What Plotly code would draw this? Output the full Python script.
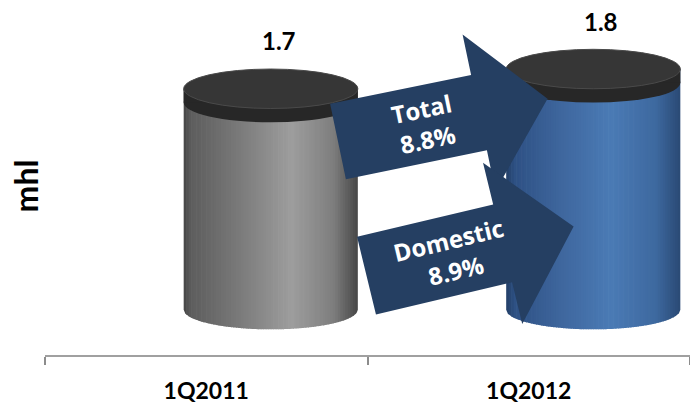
import math
import plotly.graph_objects as go

# ---- data -------------------------------------------------------------
categories = ["1Q2011", "1Q2012"]
volumes = [1.7, 1.8]                 # beer volume, mhl
value_labels = ["1.7", "1.8"]
growth_names = ["Total", "Domestic"]
growth_values = ["8.8%", "8.9%"]

# ---- layout / style ---------------------------------------------------
W, H = 690, 404
ML, MB = 45, 44
Y_RANGE = [0.35, 2.15]
BASE = 0.58            # value where the cylinder bodies start
X_SHIFT = 0.2          # cylinders sit right of the category centre
HALF_W = 0.27          # half width of a cylinder (category units)
ELL_B = 0.1            # half height of the elliptic faces (value units)
CAP_T = 0.07           # thickness of the dark lid
N_STRIPS = 70

gray_stops = [(0.0, "#454545"), (0.04, "#5d5d5d"), (0.30, "#787878"),
              (0.62, "#9d9d9d"), (0.86, "#7e7e7e"), (1.0, "#474747")]
blue_stops = [(0.0, "#233f68"), (0.05, "#2e5184"), (0.32, "#3f679e"),
              (0.60, "#4a7ab5"), (0.86, "#3e699f"), (1.0, "#2a4974")]
body_stops = [gray_stops, blue_stops]
LID_SIDE = "#272727"
LID_TOP = "#363636"
ARROW_COLOR = "#253f62"

# growth arrows: tail centre (px), tilt (deg), length, head length, half widths
arrows = [
    dict(tail=(338, 143.5), angle=11.7, length=214, head_len=70, shaft=39, head=81),
    dict(tail=(366.5, 279.5), angle=13.5, length=213, head_len=73, shaft=40.5, head=84),
]


def hex2rgb(h):
    h = h.lstrip("#")
    return tuple(int(h[i:i + 2], 16) for i in (0, 2, 4))


def grad(stops, u):
    for (u0, c0), (u1, c1) in zip(stops, stops[1:]):
        if u <= u1:
            t = 0 if u1 == u0 else (u - u0) / (u1 - u0)
            a, b = hex2rgb(c0), hex2rgb(c1)
            return "rgb(%d,%d,%d)" % tuple(round(a[k] + (b[k] - a[k]) * t) for k in range(3))
    return stops[-1][1]


def px2paper(x, y):
    return (x - ML) / (W - ML), (H - MB - y) / (H - MB)


fig = go.Figure()
# invisible bars carry the categories and values onto the axes
fig.add_trace(go.Bar(x=categories, y=volumes, base=BASE,
                     marker=dict(color="rgba(0,0,0,0)", line=dict(width=0)),
                     hovertemplate="%{x}: %{y} mhl<extra></extra>", showlegend=False))

shapes = []
for i, v in enumerate(volumes):
    cx = i + X_SHIFT
    x_left = cx - HALF_W
    # body: vertical strips with a curved bottom and a horizontal shading
    for k in range(N_STRIPS):
        u0, u1 = k / N_STRIPS, (k + 1) / N_STRIPS
        xa = x_left + 2 * HALF_W * u0
        xb = x_left + 2 * HALF_W * min(1.0, u1 + 0.004)
        pts = []
        for xx in (xa, (xa + xb) / 2, xb):
            r = (xx - cx) / HALF_W
            pts.append((xx, BASE - ELL_B * math.sqrt(max(0.0, 1 - r * r))))
        path = "M %f,%f L %f,%f" % (xa, v, xb, v)
        for xx, yy in reversed(pts):
            path += " L %f,%f" % (xx, yy)
        path += " Z"
        shapes.append(dict(type="path", xref="x", yref="y", path=path,
                           fillcolor=grad(body_stops[i], (u0 + u1) / 2),
                           line=dict(width=0)))
    # lid: side band then top face
    shapes.append(dict(type="circle", xref="x", yref="y",
                       x0=x_left, x1=cx + HALF_W, y0=v - CAP_T - ELL_B, y1=v - CAP_T + ELL_B,
                       fillcolor=LID_SIDE, line=dict(width=0)))
    shapes.append(dict(type="rect", xref="x", yref="y",
                       x0=x_left, x1=cx + HALF_W, y0=v - CAP_T, y1=v,
                       fillcolor=LID_SIDE, line=dict(width=0)))
    shapes.append(dict(type="circle", xref="x", yref="y",
                       x0=x_left, x1=cx + HALF_W, y0=v - ELL_B, y1=v + ELL_B,
                       fillcolor=LID_TOP, line=dict(width=1, color="#4a4a4a")))

annotations = []
for i, v in enumerate(volumes):
    annotations.append(dict(x=i + X_SHIFT, y=v, xref="x", yref="y", text=value_labels[i],
                            showarrow=False, yshift=48, xshift=8,
                            xanchor="center", yanchor="middle",
                            font=dict(family="Lato", size=24, color="#000000", weight="bold")))

# growth arrows with their labels
for a, name, val in zip(arrows, growth_names, growth_values):
    ang = math.radians(a["angle"])
    d = (math.cos(ang), -math.sin(ang))
    n = (math.sin(ang), math.cos(ang))
    tx, ty = a["tail"]

    def pt(al, pe):
        return (tx + al * d[0] + pe * n[0], ty + al * d[1] + pe * n[1])

    hb = a["length"] - a["head_len"]
    poly = [pt(0, -a["shaft"]), pt(hb, -a["shaft"]), pt(hb, -a["head"]),
            pt(a["length"], 0), pt(hb, a["head"]), pt(hb, a["shaft"]), pt(0, a["shaft"])]
    poly = [px2paper(*p) for p in poly]
    path = "M " + " L ".join("%f,%f" % p for p in poly) + " Z"
    shapes.append(dict(type="path", xref="paper", yref="paper", path=path,
                       fillcolor=ARROW_COLOR, line=dict(width=0)))
    lx, ly = px2paper(*pt(88, 0))
    annotations.append(dict(x=lx, y=ly, xref="paper", yref="paper",
                            xanchor="center", yanchor="middle",
                            text=name + "<br>" + val, showarrow=False,
                            textangle=-a["angle"],
                            font=dict(family="Open Sans", size=24, color="#ffffff", weight="bold")))

# unit label
annotations.append(dict(x=-20 / (W - ML), y=(H - MB - 189) / (H - MB), xref="paper", yref="paper",
                        xanchor="center", yanchor="middle",
                        text="mhl", textangle=-90, showarrow=False,
                        font=dict(family="Lato", size=32, color="#000000", weight="bold")))

fig.update_layout(
    width=W, height=H,
    margin=dict(l=ML, r=0, t=0, b=MB),
    paper_bgcolor="white", plot_bgcolor="white",
    shapes=shapes, annotations=annotations,
    bargap=0.3,
    xaxis=dict(type="category", range=[-0.5, 1.5], tickson="boundaries",
               ticks="outside", ticklen=8, tickwidth=1.5, tickcolor="#8c8c8c",
               showline=True, linecolor="#a0a0a0", linewidth=1.5,
               showgrid=False, zeroline=False, ticklabelstandoff=15,
               tickfont=dict(family="Lato", size=23, color="#000000", weight="bold")),
    yaxis=dict(range=Y_RANGE, visible=False, showgrid=False, zeroline=False),
)

fig.write_html("out.html")
